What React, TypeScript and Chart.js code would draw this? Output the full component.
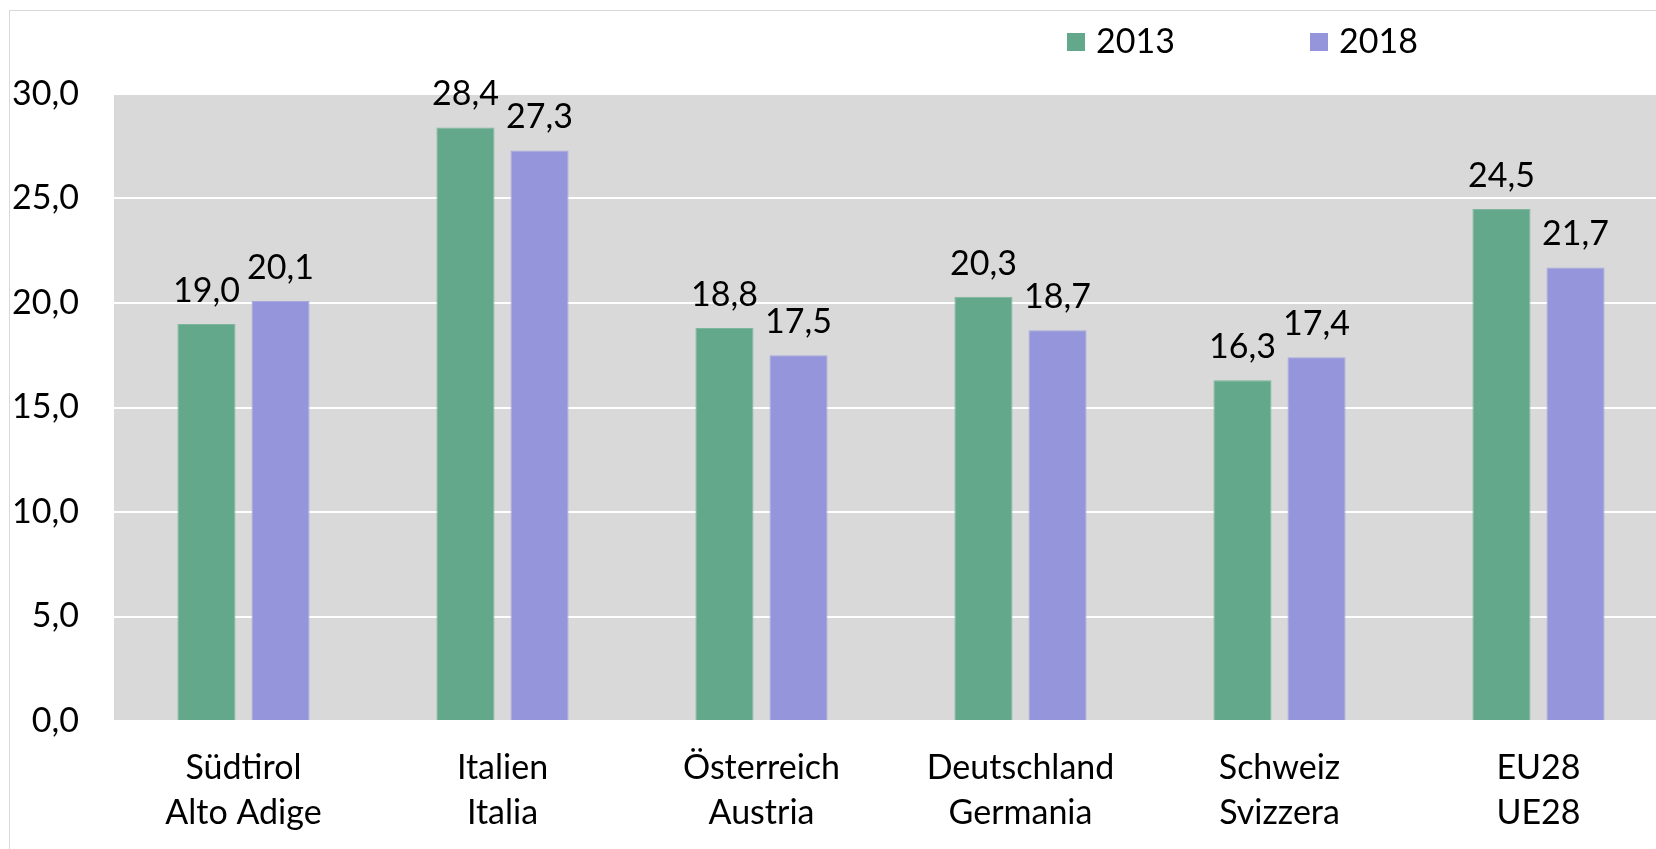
import React, { useEffect, useRef } from "react";
import { Chart, registerables } from "chart.js";

Chart.register(...registerables);

const categories: string[][] = [
  ["Südtirol", "Alto Adige"],
  ["Italien", "Italia"],
  ["Österreich", "Austria"],
  ["Deutschland", "Germania"],
  ["Schweiz", "Svizzera"],
  ["EU28", "UE28"],
];
const series2013: number[] = [19.0, 28.4, 18.8, 20.3, 16.3, 24.5];
const series2018: number[] = [20.1, 27.3, 17.5, 18.7, 17.4, 21.7];
const seriesLabels: string[] = ["2013", "2018"];
const yMin = 0;
const yMax = 30;
const yStep = 5;

const FONT = "Lato, 'Open Sans', sans-serif";
const FONT_SIZE = 34;
const GREEN = "#63A88A";
const GREEN_EDGE = "#7DB69C";
const PURPLE = "#9595DB";
const PURPLE_EDGE = "#A7A7E0";
const PLOT_BG = "#D9D9D9";

const fmt = (v: number) => v.toFixed(1).replace(".", ",");

const bgPlugin = {
  id: "plotBg",
  beforeDraw(chart: any) {
    const { ctx, chartArea } = chart;
    ctx.save();
    ctx.fillStyle = "#ffffff";
    ctx.fillRect(0, 0, chart.width, chart.height);
    ctx.strokeStyle = "#D9D9D9";
    ctx.lineWidth = 1;
    ctx.strokeRect(9.5, 10.5, chart.width + 20, chart.height + 20);
    ctx.fillStyle = PLOT_BG;
    ctx.fillRect(chartArea.left, chartArea.top, chartArea.right - chartArea.left, chartArea.bottom - chartArea.top);
    ctx.restore();
  },
};

const valueLabelPlugin = {
  id: "valueLabels",
  afterDatasetsDraw(chart: any) {
    const { ctx } = chart;
    ctx.save();
    ctx.font = `${FONT_SIZE}px ${FONT}`;
    ctx.fillStyle = "#000000";
    ctx.textAlign = "center";
    ctx.textBaseline = "alphabetic";
    chart.data.datasets.forEach((ds: any, di: number) => {
      const meta = chart.getDatasetMeta(di);
      meta.data.forEach((bar: any, i: number) => {
        ctx.fillText(fmt(ds.data[i]), bar.x, bar.y - 22);
      });
    });
    ctx.restore();
  },
};

const legendPlugin = {
  id: "customLegend",
  afterDraw(chart: any) {
    const { ctx } = chart;
    const startXs = [1067, 1310];
    ctx.save();
    ctx.font = `${FONT_SIZE}px ${FONT}`;
    ctx.textAlign = "left";
    ctx.textBaseline = "middle";
    chart.data.datasets.forEach((ds: any, i: number) => {
      const x = startXs[i];
      ctx.fillStyle = ds.backgroundColor;
      ctx.fillRect(x, 33, 18, 18);
      ctx.fillStyle = "#000000";
      ctx.fillText(ds.label, x + 29, 42);
    });
    ctx.restore();
  },
};

export default function App() {
  const canvasRef = useRef<HTMLCanvasElement | null>(null);

  useEffect(() => {
    document.body.style.margin = "0";
    const canvas = canvasRef.current;
    if (!canvas) return;
    const chart = new Chart(canvas, {
      type: "bar",
      data: {
        labels: categories,
        datasets: [
          {
            label: seriesLabels[0],
            data: series2013,
            backgroundColor: GREEN,
            borderColor: GREEN_EDGE,
            borderWidth: 1,
            categoryPercentage: 0.572,
            barPercentage: 0.784,
          },
          {
            label: seriesLabels[1],
            data: series2018,
            backgroundColor: PURPLE,
            borderColor: PURPLE_EDGE,
            borderWidth: 1,
            categoryPercentage: 0.572,
            barPercentage: 0.784,
          },
        ],
      },
      options: {
        responsive: false,
        animation: false,
        devicePixelRatio: 1,
        layout: { padding: { top: 94, left: 0, right: 0, bottom: 0 } },
        plugins: {
          legend: { display: false },
          tooltip: { enabled: false },
          title: { display: false },
        },
        scales: {
          x: {
            grid: { display: false, drawTicks: false },
            border: { display: false },
            ticks: {
              color: "#000000",
              padding: 25,
              maxRotation: 0,
              autoSkip: false,
              font: { family: FONT, size: FONT_SIZE, lineHeight: "45px" },
            },
            afterFit: (scale: any) => {
              scale.height = 128;
            },
          },
          y: {
            min: yMin,
            max: yMax,
            grid: { color: "#FFFFFF", lineWidth: 2, drawTicks: false },
            border: { display: false },
            ticks: {
              stepSize: yStep,
              color: "#000000",
              padding: 35,
              font: { family: FONT, size: FONT_SIZE },
              callback: (v: any) => fmt(Number(v)),
            },
            afterFit: (scale: any) => {
              scale.width = 114;
            },
          },
        },
      },
      plugins: [bgPlugin, valueLabelPlugin, legendPlugin],
    });
    return () => chart.destroy();
  }, []);

  return (
    <div style={{ width: 1656, height: 849, overflow: "hidden", position: "relative" }}>
      <canvas ref={canvasRef} width={1668} height={849} style={{ display: "block" }} />
    </div>
  );
}
